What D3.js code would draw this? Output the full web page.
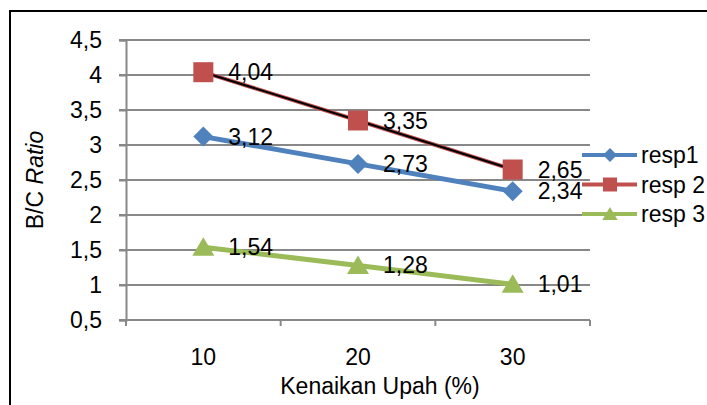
<!DOCTYPE html>
<html>
<head>
<meta charset="utf-8">
<script src="https://cdn.jsdelivr.net/npm/d3@7/dist/d3.min.js"></script>
<style>
  html, body { margin: 0; padding: 0; background: #fff; }
  svg { display: block; }
  text { font-family: "Liberation Sans", Arial, sans-serif; fill: #000; }
</style>
</head>
<body>
<svg id="chart" width="707" height="405"></svg>
<script>
// Benefit/cost ratio by wage increase, three respondents
const categories = ["10", "20", "30"];
const resp1 = [3.12, 2.73, 2.34];
const resp2 = [4.04, 3.35, 2.65];
const resp3 = [1.54, 1.28, 1.01];
const yTicks = [0.5, 1, 1.5, 2, 2.5, 3, 3.5, 4, 4.5];
const seriesNames = ["resp1", "resp 2", "resp 3"];
const seriesColors = ["#4F81BD", "#C0504D", "#9BBB59"];
const seriesShapes = ["diamond", "square", "triangle"];

const series = [resp1, resp2, resp3].map((values, i) => ({
  name: seriesNames[i], values, color: seriesColors[i], shape: seriesShapes[i]
}));

const svg = d3.select("#chart");
const FS = 23;
const comma = v => String(v).replace(".", ",");

// outer frame
svg.append("rect")
  .attr("x", 10).attr("y", 11).attr("width", 800).attr("height", 500)
  .attr("fill", "none").attr("stroke", "#000").attr("stroke-width", 2);

const x = d3.scaleBand().domain(categories).range([126, 590]);
const y = d3.scaleLinear().domain([0.5, 4.5]).range([320, 40]);
const cx = c => x(c) + x.bandwidth() / 2;

// gridlines
svg.append("g").selectAll("line").data(yTicks).join("line")
  .attr("x1", 119).attr("x2", 590)
  .attr("y1", d => y(d)).attr("y2", d => y(d))
  .attr("stroke", "#888").attr("stroke-width", 2);

// y axis
const yAxis = svg.append("g").attr("transform", "translate(126,0)")
  .call(d3.axisLeft(y).tickValues(yTicks).tickFormat(comma).tickSize(7).tickPadding(17));
yAxis.select(".domain").attr("stroke", "#888").attr("stroke-width", 2);
yAxis.selectAll(".tick line").attr("stroke", "#888").attr("stroke-width", 2);
yAxis.selectAll(".tick text").attr("font-size", FS).attr("fill", "#000");

// x axis
const xAxis = svg.append("g").attr("transform", "translate(0,320)")
  .call(d3.axisBottom(x).tickSize(0).tickPadding(29));
xAxis.select(".domain").remove();
xAxis.selectAll(".tick text").attr("font-size", FS).attr("fill", "#000");
// category boundary ticks
const bounds = categories.map(c => x(c)).concat([x(categories[categories.length - 1]) + x.bandwidth()]);
svg.append("g").selectAll("line").data(bounds).join("line")
  .attr("x1", d => d).attr("x2", d => d).attr("y1", 320).attr("y2", 326)
  .attr("stroke", "#888").attr("stroke-width", 2);

// axis titles
svg.append("text")
  .attr("x", 380).attr("y", 394).attr("text-anchor", "middle").attr("font-size", FS)
  .text("Kenaikan Upah (%)");
const yt = svg.append("text")
  .attr("transform", "translate(43,180) rotate(-90)")
  .attr("text-anchor", "middle").attr("font-size", FS);
yt.append("tspan").text("B/C ");
yt.append("tspan").attr("font-style", "italic").text("Ratio");

// marker shapes
function markerPath(shape, s) {
  if (shape === "diamond") return `M0,${-s}L${s},0L0,${s}L${-s},0Z`;
  if (shape === "square") return `M${-s},${-s}H${s}V${s}H${-s}Z`;
  return `M0,${-s}L${s * 1.1},${s * 0.85}L${-s * 1.1},${s * 0.85}Z`;
}
const markerSize = { diamond: 10, square: 10, triangle: 10 };

const line = d3.line().x((d, i) => cx(categories[i])).y(d => y(d));

series.forEach(s => {
  const g = svg.append("g");
  g.append("path").attr("d", line(s.values))
    .attr("fill", "none").attr("stroke", s.color)
    .attr("stroke-width", s.shape === "square" ? 4 : 5);
  if (s.shape === "square") {
    g.append("path").attr("d", line(s.values))
      .attr("fill", "none").attr("stroke", "#000").attr("stroke-width", 2);
  }
  g.selectAll(".m").data(s.values).join("path")
    .attr("d", markerPath(s.shape, markerSize[s.shape]))
    .attr("transform", (d, i) => `translate(${cx(categories[i])},${y(d)})`)
    .attr("fill", s.color);
});

// data labels
series.forEach(s => {
  svg.append("g").selectAll("text").data(s.values).join("text")
    .attr("x", (d, i) => cx(categories[i]) + 25)
    .attr("y", d => y(d) + 8)
    .attr("font-size", FS)
    .text(d => d3.format(".2f")(d).replace(".", ","));
});

// legend
const legend = svg.append("g");
series.forEach((s, i) => {
  const ly = 155 + i * 29.5;
  legend.append("line").attr("x1", 582).attr("x2", 637).attr("y1", ly).attr("y2", ly)
    .attr("stroke", s.color).attr("stroke-width", 4);
  legend.append("path").attr("d", markerPath(s.shape, 7))
    .attr("transform", `translate(610,${ly})`).attr("fill", s.color);
  legend.append("text").attr("x", 641).attr("y", ly + 8).attr("font-size", FS).text(s.name);
});
</script>
</body>
</html>
